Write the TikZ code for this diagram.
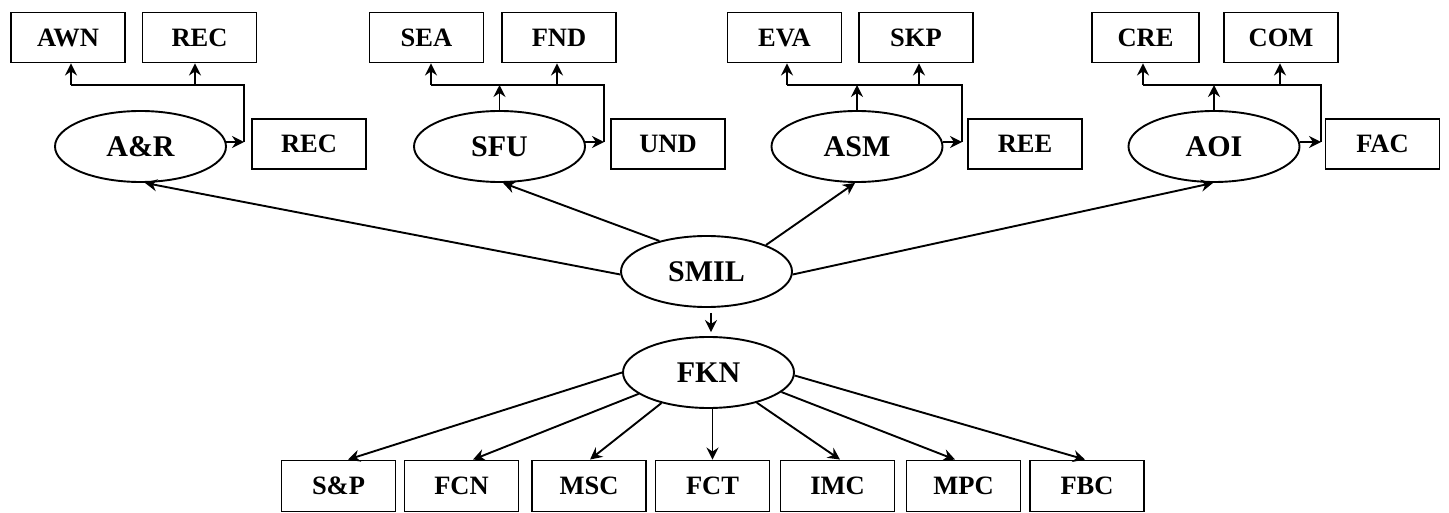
\documentclass[tikz,border=0pt]{standalone}
\usepackage{fontspec}
\setmainfont{Liberation Serif}
\usetikzlibrary{arrows.meta,shapes.geometric}
\begin{document}
\begin{tikzpicture}[x=1pt,y=-1pt,
  box/.style={draw,line width=1.9pt,minimum width=114pt,minimum height=50pt,inner sep=0pt,font=\fontsize{26.5}{30}\selectfont\bfseries},
  oval/.style={ellipse,draw,line width=1.9pt,minimum width=171pt,minimum height=71pt,inner sep=0pt,font=\fontsize{30}{34}\selectfont\bfseries},
  arr/.style={line width=1.9pt,-{Stealth[length=12pt,width=12pt,inset=4pt]}},
  bus/.style={line width=1.4pt}]
\useasboundingbox (0,0) rectangle (1449,513);
% top boxes
\node[box] (awn) at (68,37.5) {AWN};
\node[box] (rec1) at (199.5,37.5) {REC};
\node[box] (sea) at (426.5,37.5) {SEA};
\node[box] (fnd) at (559,37.5) {FND};
\node[box] (eva) at (784.5,37.5) {EVA};
\node[box] (skp) at (916,37.5) {SKP};
\node[box,minimum width=107pt] (cre) at (1145.5,37.5) {CRE};
\node[box] (com) at (1281,37.5) {COM};
% side boxes
\node[box] (rec2) at (309,144) {REC};
\node[box] (und) at (668,144) {UND};
\node[box] (ree) at (1025,144) {REE};
\node[box] (fac) at (1382.5,144) {FAC};
% ellipses
\node[oval] (ar) at (140.5,146.5) {A\&R};
\node[oval] (sfu) at (499.5,146.5) {SFU};
\node[oval] (asm) at (857,146.5) {ASM};
\node[oval] (aoi) at (1214,146.5) {AOI};
\node[oval] (smil) at (706.5,271.5) {SMIL};
\node[oval] (fkn) at (708.5,372.5) {FKN};
% bottom boxes
\node[box,minimum height=51pt] (sp) at (338.5,486) {S\&P};
\node[box,minimum height=51pt] (fcn) at (461.5,486) {FCN};
\node[box,minimum height=51pt] (msc) at (589,486) {MSC};
\node[box,minimum height=51pt] (fct) at (712.5,486) {FCT};
\node[box,minimum height=51pt] (imc) at (837.5,486) {IMC};
\node[box,minimum height=51pt] (mpc) at (963.5,486) {MPC};
\node[box,minimum height=51pt] (fbc) at (1087,486) {FBC};
% A&R cluster
\coordinate (arL) at (71,85); \coordinate (arM) at (195,85); \coordinate (arR) at (244,85);
\draw[bus] (arL) -- (arR) -- (arR |- ar.3);
\draw[arr] (arL) -- (arL |- awn.south);
\draw[arr] (arM) -- (arM |- rec1.south);
\draw[arr] (ar.3) -- (ar.3 -| arR);
% SFU cluster
\coordinate (sfL) at (431,85); \coordinate (sfM) at (557,85); \coordinate (sfR) at (604,85);
\draw[bus] (sfL) -- (sfR) -- (sfR |- sfu.3);
\draw[arr] (sfL) -- (sfL |- sea.south);
\draw[arr] (sfM) -- (sfM |- fnd.south);
\draw[arr] (sfu.3) -- (sfu.3 -| sfR);
\draw[arr] (sfu.north) -- (sfu.north |- sfL);
% ASM cluster
\coordinate (asL) at (787,85); \coordinate (asM) at (919,85); \coordinate (asR) at (962,85);
\draw[bus] (asL) -- (asR) -- (asR |- asm.3);
\draw[arr] (asL) -- (asL |- eva.south);
\draw[arr] (asM) -- (asM |- skp.south);
\draw[arr] (asm.3) -- (asm.3 -| asR);
\draw[arr] (asm.north) -- (asm.north |- asL);
% AOI cluster
\coordinate (aoL) at (1143,85); \coordinate (aoM) at (1280,85); \coordinate (aoR) at (1321,85);
\draw[bus] (aoL) -- (aoR) -- (aoR |- aoi.3);
\draw[arr] (aoL) -- (aoL |- cre.south);
\draw[arr] (aoM) -- (aoM |- com.south);
\draw[arr] (aoi.3) -- (aoi.3 -| aoR);
\draw[arr] (aoi.north) -- (aoi.north |- aoL);
% SMIL arrows
\draw[arr] (smil.182) -- ([xshift=4.5pt]ar.south);
\draw[arr] (smil.147) -- ([xshift=3.5pt]sfu.south);
\draw[arr] (smil.24) -- ([xshift=-2pt]asm.south);
\draw[arr] (smil.-2) -- ([xshift=-1pt]aoi.south);
\draw[arr,shorten <=5pt,shorten >=4pt] ([xshift=4.5pt]smil.south) -- ([xshift=4.5pt]smil.south |- fkn.north);
% FKN arrows
\draw[arr] (fkn.180) -- ([xshift=9.5pt]sp.north);
\draw[arr] (fkn.197) -- ([xshift=11.5pt]fcn.north);
\draw[arr] (fkn.213) -- ([xshift=1pt]msc.north);
\draw[arr] (fct.north |- fkn.south) -- (fct.north);
\draw[arr] (fkn.-32) -- ([xshift=2.5pt]imc.north);
\draw[arr] (fkn.-15) -- ([xshift=-8.5pt]mpc.north);
\draw[arr] (fkn.-2) -- ([xshift=-2pt]fbc.north);
\end{tikzpicture}
\end{document}
